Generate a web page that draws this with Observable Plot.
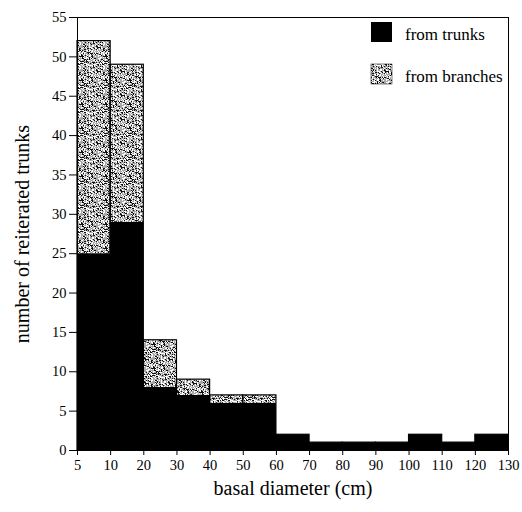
<!DOCTYPE html>
<html><head><meta charset="utf-8">
<script src="https://cdn.jsdelivr.net/npm/d3@7"></script>
<script src="https://cdn.jsdelivr.net/npm/@observablehq/plot@0.6"></script>
<style>body{margin:0;background:#fff}</style>
</head><body><div id="chart"></div>
<script>
const tickLabels = ["5","10","20","30","40","50","60","70","80","90","100","110","120","130"];
const binStart = [0,1,2,3,4,5,6,7,8,9,10,11,12];
const fromTrunks = [25,29,8,7,6,6,2,1,1,1,2,1,2];
const fromBranches = [27,20,6,2,1,1,0,0,0,0,0,0,0];
const seriesNames = ["from trunks","from branches"];
const yTicks = [0,5,10,15,20,25,30,35,40,45,50,55];

const rows = [];
binStart.forEach((b,i)=>{
  rows.push({x1:b,x2:b+1,y:fromTrunks[i],s:seriesNames[0]});
  rows.push({x1:b,x2:b+1,y:fromBranches[i],s:seriesNames[1]});
});

const font = "'Liberation Serif', 'DejaVu Serif', serif";
const chart = Plot.plot({
  width:522, height:512,
  marginLeft:77, marginRight:14, marginTop:17, marginBottom:62,
  style:{fontFamily:font, fontSize:"14.5px", color:"#000", background:"#fff"},
  x:{domain:[0,13], ticks:d3.range(14), tickFormat:i=>tickLabels[i], tickSize:5, tickPadding:4, label:null},
  y:{domain:[0,55], ticks:yTicks, tickSize:8, tickPadding:3, label:null},
  color:{domain:seriesNames, range:["#000","url(#stipple)"]},
  marks:[
    Plot.rectY(rows, Plot.stackY({x1:"x1", x2:"x2", y:"y", fill:"s", order:seriesNames, inset:0})),
    Plot.rectY(binStart, {x1:d=>d, x2:d=>d+1, y:(d,i)=>fromTrunks[i]+fromBranches[i], fill:"none", stroke:"#000", strokeWidth:1.2, inset:0}),
    Plot.frame({stroke:"#000"}),
    Plot.text(["basal diameter (cm)"], {frameAnchor:"bottom", dy:44, fontSize:20, fontFamily:font}),
    Plot.text(["number of reiterated trunks"], {frameAnchor:"left", textAnchor:"middle", dx:-55, rotate:-90, fontSize:20, fontFamily:font})
  ]
});

// stipple texture (visual only)
const svg = d3.select(chart);
const defs = svg.insert("defs",":first-child");
const N = 24;
const pat = defs.append("pattern").attr("id","stipple").attr("patternUnits","userSpaceOnUse").attr("width",N).attr("height",N);
pat.append("rect").attr("width",N).attr("height",N).attr("fill","#a8a8a8");
for(let y=0;y<N;y++) for(let x=0;x<N;x++){
  const h = ((x*374761393 + y*668265263) ^ (x*y*2246822519)) >>> 0;
  const v = (h ^ (h>>>13)) * 1274126177 >>> 0;
  const r = (v>>>8) % 100;
  if(r<34) pat.append("rect").attr("x",x).attr("y",y).attr("width",1).attr("height",1).attr("fill","#fff");
  else if(r<58) pat.append("rect").attr("x",x).attr("y",y).attr("width",1).attr("height",1).attr("fill","#111");
}

// legend
const lg = svg.append("g").style("font-family",font).style("font-size","17px").attr("text-anchor","start");
[["#000",22,35],["url(#stipple)",64,77]].forEach(([f,y,ty],k)=>{
  lg.append("rect").attr("x",371).attr("y",y).attr("width",21).attr("height",20).attr("fill",f).attr("stroke","#000").attr("stroke-width",k?0.5:0);
  lg.append("text").attr("x",405).attr("y",ty+5).attr("text-anchor","start").text(seriesNames[k]);
});
document.getElementById("chart").appendChild(chart);
</script></body></html>
